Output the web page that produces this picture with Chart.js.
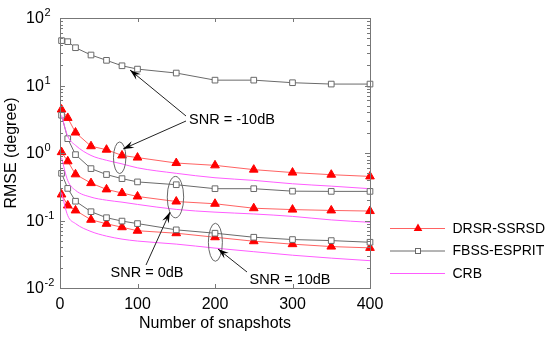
<!DOCTYPE html>
<html>
<head>
<meta charset="utf-8">
<script src="https://cdn.jsdelivr.net/npm/chart.js@4.4.1/dist/chart.umd.min.js"></script>
<style>
  html, body { margin: 0; padding: 0; background: #fff; }
</style>
</head>
<body>
<canvas id="chart" width="550" height="337"></canvas>
<script>
// number of snapshots
const snapshots = [2, 10, 20, 40, 60, 80, 100, 150, 200, 250, 300, 350, 400];

// DRSR-SSRSD (red triangles)
const drsrM10 = [4.41, 3.31, 2.01, 1.26, 1.12, 0.92, 0.855, 0.71, 0.656, 0.567, 0.513, 0.477, 0.45];
const drsr0   = [1.03, 0.753, 0.483, 0.358, 0.289, 0.255, 0.227, 0.191, 0.177, 0.152, 0.145, 0.141, 0.138];
const drsr10  = [0.243, 0.167, 0.141, 0.1025, 0.0894, 0.0795, 0.0705, 0.0648, 0.0565, 0.0493, 0.0446, 0.0411, 0.0393];

// FBSS-ESPRIT (grey squares)
const fbssM10 = [46.2, 44.6, 36.3, 28.3, 23.6, 19.6, 17.5, 15.3, 12.0, 12.0, 11.0, 10.5, 10.5];
const fbss0   = [3.63, 1.63, 0.946, 0.587, 0.479, 0.417, 0.373, 0.339, 0.296, 0.296, 0.272, 0.27, 0.27];
const fbss10  = [0.5, 0.299, 0.193, 0.135, 0.11, 0.098, 0.09, 0.0727, 0.0648, 0.0565, 0.0522, 0.0504, 0.0476];

// CRB (magenta)
const crbM10 = [3.6, 1.77, 1.3, 0.92, 0.78, 0.69, 0.603, 0.5, 0.43, 0.393, 0.35, 0.323, 0.296];
const crb0   = [0.85, 0.39, 0.28, 0.222, 0.2, 0.187, 0.173, 0.146, 0.133, 0.125, 0.115, 0.102, 0.094];
const crb10  = [0.26, 0.118, 0.09, 0.0687, 0.0587, 0.053, 0.0496, 0.0447, 0.039, 0.0345, 0.0306, 0.0277, 0.0254];

const yTicks = [100, 10, 1, 0.1, 0.01];
const yExp = ['2', '1', '0', '-1', '-2'];

function pts(vals) {
    return vals.map((v, i) => ({ x: snapshots[i], y: v }));
}

const RED = '#ff0000';
const REDLINE = 'rgba(255,70,70,0.85)';
const GREY = '#6a6a6a';
const MAGENTA = '#ff5cff';

function crbSet(vals) {
    return { data: pts(vals), borderColor: MAGENTA, borderWidth: 1, pointRadius: 0, tension: 0.4, cubicInterpolationMode: 'monotone', clip: false };
}
function fbssSet(vals) {
    return { data: pts(vals), borderColor: GREY, borderWidth: 1, pointStyle: 'rect', pointRadius: 4, pointBorderColor: GREY, pointBackgroundColor: '#fff', pointBorderWidth: 1, tension: 0, clip: false };
}
function drsrSet(vals) {
    return { data: pts(vals), borderColor: REDLINE, borderWidth: 1, pointStyle: 'triangle', pointRadius: 5, pointBorderColor: RED, pointBackgroundColor: RED, pointBorderWidth: 1, tension: 0, clip: false };
}

// box, inward ticks, y labels with exponents, legend and annotations
const decorations = {
    id: 'decorations',
    afterDraw(chart) {
        const ctx = chart.ctx;
        const a = chart.chartArea;
        const xs = chart.scales.x, ys = chart.scales.y;
        ctx.save();
        ctx.strokeStyle = '#777';
        ctx.lineWidth = 1;
        ctx.strokeRect(a.left + 0.5, a.top + 0.5, a.right - a.left, a.bottom - a.top);

        ctx.beginPath();
        [100, 200, 300].forEach(v => {
            const px = Math.round(xs.getPixelForValue(v)) + 0.5;
            ctx.moveTo(px, a.bottom); ctx.lineTo(px, a.bottom - 4);
            ctx.moveTo(px, a.top); ctx.lineTo(px, a.top + 4);
        });
        for (let e = -2; e < 2; e++) {
            for (let m = 1; m < 10; m++) {
                const py = Math.round(ys.getPixelForValue(m * Math.pow(10, e))) + 0.5;
                const len = m === 1 ? 5 : 3;
                ctx.moveTo(a.left, py); ctx.lineTo(a.left + len, py);
                ctx.moveTo(a.right, py); ctx.lineTo(a.right - len, py);
            }
        }
        ctx.stroke();

        // y tick labels
        ctx.fillStyle = '#000';
        ctx.textBaseline = 'middle';
        ctx.textAlign = 'left';
        yTicks.forEach((v, i) => {
            const py = ys.getPixelForValue(v);
            ctx.font = '16px "Liberation Sans", Arial, sans-serif';
            ctx.fillText('10', 26, py + 1);
            ctx.font = '11px "Liberation Sans", Arial, sans-serif';
            ctx.fillText(yExp[i], 44.5, py - 5);
        });

        // annotations
        ctx.font = '14.5px "Liberation Sans", Arial, sans-serif';
        ctx.textAlign = 'center';
        ctx.fillText('SNR = -10dB', 232, 120);
        ctx.fillText('SNR = 0dB', 147, 273);
        ctx.fillText('SNR = 10dB', 290, 280);

        ctx.strokeStyle = '#666';
        const ell = [[77, 0.85, 6.2, 15.8], [149, 0.222, 8.2, 20.7], [200.5, 0.0476, 7, 19]];
        ell.forEach(e => {
            ctx.beginPath();
            ctx.ellipse(xs.getPixelForValue(e[0]), ys.getPixelForValue(e[1]), e[2], e[3], 0, 0, Math.PI * 2);
            ctx.stroke();
        });

        function arrow(x1, y1, x2, y2) {
            const ang = Math.atan2(y2 - y1, x2 - x1);
            ctx.strokeStyle = '#222';
            ctx.beginPath(); ctx.moveTo(x1, y1); ctx.lineTo(x2, y2); ctx.stroke();
            ctx.fillStyle = '#000';
            ctx.beginPath();
            ctx.moveTo(x2, y2);
            ctx.lineTo(x2 - 11 * Math.cos(ang) + 3.5 * Math.sin(ang), y2 - 11 * Math.sin(ang) - 3.5 * Math.cos(ang));
            ctx.lineTo(x2 - 7 * Math.cos(ang), y2 - 7 * Math.sin(ang));
            ctx.lineTo(x2 - 11 * Math.cos(ang) - 3.5 * Math.sin(ang), y2 - 11 * Math.sin(ang) + 3.5 * Math.cos(ang));
            ctx.closePath();
            ctx.fill();
        }
        arrow(186, 116, 130, 70);
        arrow(186, 121, 123, 149);
        arrow(146, 265, 170, 212);
        arrow(247, 272, 218, 249);

        // legend
        const leg = [['DRSR-SSRSD', REDLINE, 'triangle'], ['FBSS-ESPRIT', GREY, 'rect'], ['CRB', MAGENTA, null]];
        ctx.font = '14px "Liberation Sans", Arial, sans-serif';
        ctx.textAlign = 'left';
        leg.forEach((l, i) => {
            const py = 228.5 + i * 22.5;
            ctx.strokeStyle = l[1];
            ctx.beginPath(); ctx.moveTo(390, py); ctx.lineTo(445, py); ctx.stroke();
            if (l[2] === 'triangle') {
                ctx.fillStyle = RED;
                ctx.beginPath();
                ctx.moveTo(418, py - 5); ctx.lineTo(422.3, py + 2.5); ctx.lineTo(413.7, py + 2.5);
                ctx.closePath(); ctx.fill();
            } else if (l[2] === 'rect') {
                ctx.fillStyle = '#fff';
                ctx.fillRect(415, py - 3, 6, 6);
                ctx.strokeRect(415.5, py - 2.5, 5, 5);
            }
            ctx.fillStyle = '#000';
            ctx.fillText(l[0], 452.5, py + 0.5);
        });
        ctx.restore();
    }
};

const ctx = document.getElementById('chart').getContext('2d');
const chart = new Chart(ctx, {
    type: 'line',
    data: {
        datasets: [
            crbSet(crbM10), crbSet(crb0), crbSet(crb10),
            fbssSet(fbssM10), fbssSet(fbss0), fbssSet(fbss10),
            drsrSet(drsrM10), drsrSet(drsr0), drsrSet(drsr10)
        ]
    },
    options: {
        responsive: false,
        animation: false,
        devicePixelRatio: 1,
        layout: { padding: { top: 18, right: 180, left: 0, bottom: 0 } },
        plugins: {
            legend: { display: false },
            tooltip: { enabled: false }
        },
        scales: {
            x: {
                type: 'linear',
                min: 0,
                max: 400,
                grid: { display: false, drawTicks: false },
                border: { display: false },
                ticks: {
                    stepSize: 100,
                    padding: 7,
                    color: '#000',
                    font: { family: '"Liberation Sans", Arial, sans-serif', size: 16 }
                },
                title: {
                    display: true,
                    text: 'Number of snapshots',
                    color: '#000',
                    padding: { top: 0, bottom: 4 },
                    font: { family: '"Liberation Sans", Arial, sans-serif', size: 16 }
                },
                afterFit(scale) { scale.height = 49; }
            },
            y: {
                type: 'logarithmic',
                min: 0.01,
                max: 100,
                grid: { display: false, drawTicks: false },
                border: { display: false },
                ticks: { display: false },
                title: {
                    display: true,
                    text: 'RMSE (degree)',
                    color: '#000',
                    padding: { top: 2, bottom: 0 },
                    font: { family: '"Liberation Sans", Arial, sans-serif', size: 16 }
                },
                afterFit(scale) { scale.width = 60; }
            }
        }
    },
    plugins: [decorations]
});
</script>
</body>
</html>
